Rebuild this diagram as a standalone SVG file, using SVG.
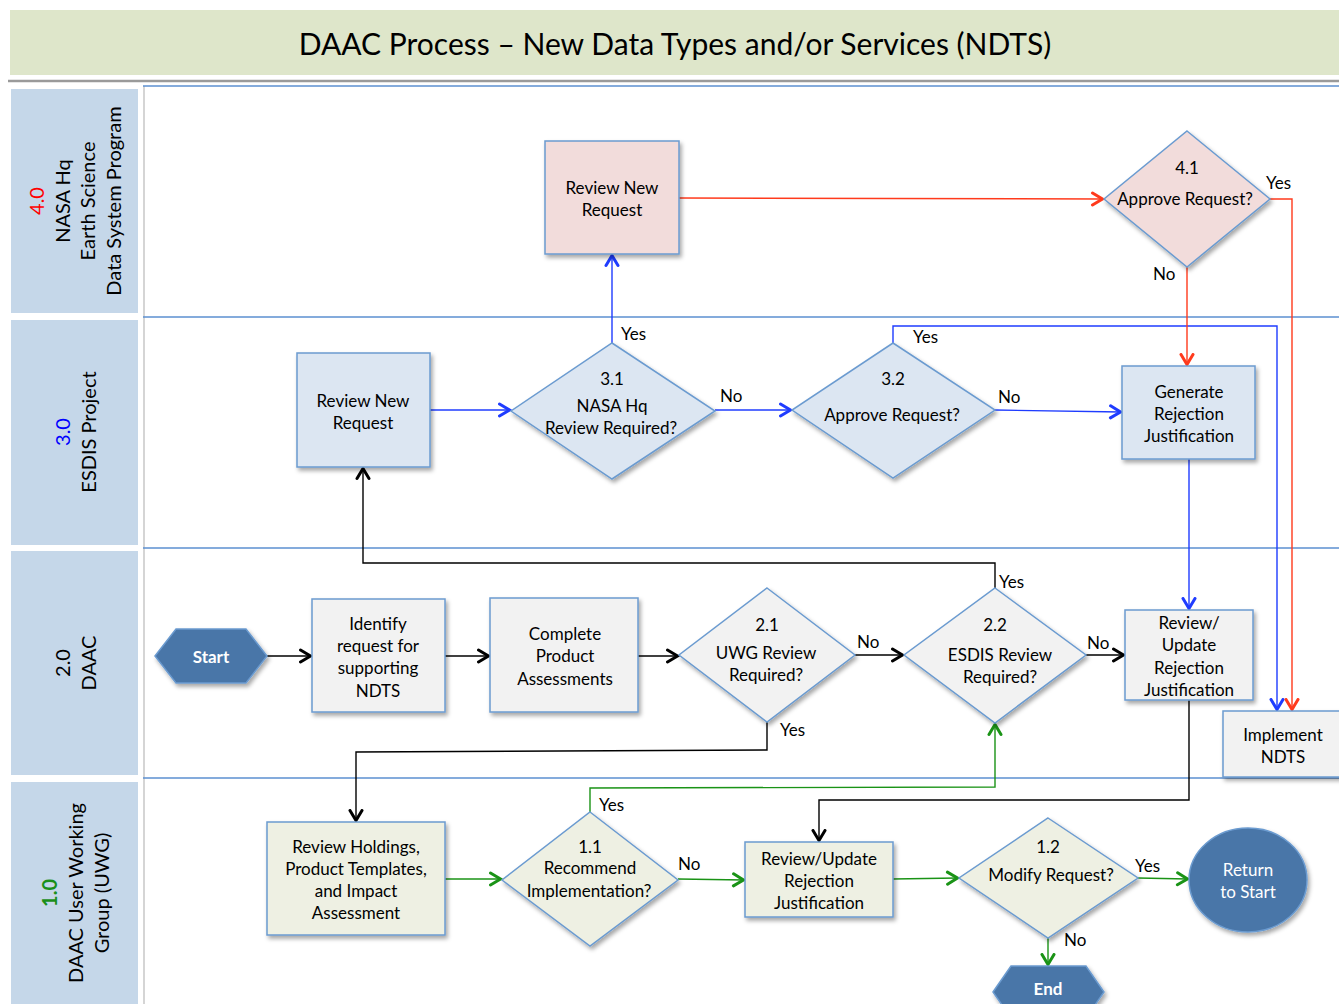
<svg xmlns="http://www.w3.org/2000/svg" width="1339" height="1004" viewBox="0 0 1339 1004">
<defs>
<filter id="sh" x="-10%" y="-10%" width="130%" height="130%">
<feDropShadow dx="2" dy="3" stdDeviation="2" flood-color="#000" flood-opacity="0.35"/>
</filter>
<marker id="ab" viewBox="0 0 14 16" refX="12.5" refY="8" markerWidth="14" markerHeight="16" markerUnits="userSpaceOnUse" orient="auto"><path d="M2,2 L12,8 L2,14" fill="none" stroke="#1f3cff" stroke-width="3" stroke-linecap="round" stroke-linejoin="miter"/></marker>
<marker id="ar" viewBox="0 0 14 16" refX="12.5" refY="8" markerWidth="14" markerHeight="16" markerUnits="userSpaceOnUse" orient="auto"><path d="M2,2 L12,8 L2,14" fill="none" stroke="#ff3a1c" stroke-width="3" stroke-linecap="round"/></marker>
<marker id="ak" viewBox="0 0 14 16" refX="12.5" refY="8" markerWidth="14" markerHeight="16" markerUnits="userSpaceOnUse" orient="auto"><path d="M2,2 L12,8 L2,14" fill="none" stroke="#000" stroke-width="3" stroke-linecap="round"/></marker>
<marker id="ag" viewBox="0 0 14 16" refX="12.5" refY="8" markerWidth="14" markerHeight="16" markerUnits="userSpaceOnUse" orient="auto"><path d="M2,2 L12,8 L2,14" fill="none" stroke="#1a9316" stroke-width="3" stroke-linecap="round"/></marker>
</defs>
<style>
text{font-family:Lato,"Liberation Sans",sans-serif;fill:#000;}
.t{font-size:17px;text-anchor:middle;}
.lbl{font-size:17px;}
.lane{font-size:20px;text-anchor:middle;}
.box{stroke:#6b9bd0;stroke-width:1.5;filter:url(#sh);}
.pink{fill:#f2dcdb;}
.lb{fill:#dce6f2;}
.gr{fill:#f2f2f2;}
.ol{fill:#eef0e3;}
.dark{fill:#4a76a8;stroke:#6b9bd0;stroke-width:1.5;filter:url(#sh);}
.wt{fill:#fff;font-size:17px;text-anchor:middle;}
.cb{fill:none;stroke:#1f3cff;stroke-width:1.4;}
.cr{fill:none;stroke:#ff3a1c;stroke-width:1.4;}
.ck{fill:none;stroke:#000;stroke-width:1.4;}
.cg{fill:none;stroke:#1a9316;stroke-width:1.4;}
.div{stroke:#5b8fd0;stroke-width:1.3;}
</style>
<rect width="1339" height="1004" fill="#fff"/>
<!-- Title -->
<g id="title">
<rect x="10" y="10" width="1329" height="65" fill="#dee6ca"/>
<line x1="8" y1="81" x2="1339" y2="81" stroke="#9a9a9a" stroke-width="2.5"/>
<text x="675" y="55" font-size="30" text-anchor="middle">DAAC Process – New Data Types and/or Services (NDTS)</text>
</g>
<!-- Lanes -->
<g id="lanes">
<rect x="11" y="89" width="127" height="224" fill="#c5d7e9"/>
<rect x="11" y="320" width="127" height="225" fill="#c5d7e9"/>
<rect x="11" y="551" width="127" height="224" fill="#c5d7e9"/>
<rect x="11" y="782" width="127" height="222" fill="#c5d7e9"/>
<line x1="144" y1="86" x2="144" y2="1004" stroke="#d5d5d5" stroke-width="2"/>
<line class="div" x1="143" y1="86" x2="1339" y2="86"/>
<line class="div" x1="143" y1="317" x2="1339" y2="317"/>
<line class="div" x1="143" y1="548" x2="1339" y2="548"/>
<line class="div" x1="143" y1="778" x2="1339" y2="778"/>
<g transform="translate(0,201) rotate(-90)">
<text class="lane" x="0" y="44" style="fill:#ff0000">4.0</text>
<text class="lane" x="0" y="70">NASA Hq</text>
<text class="lane" x="0" y="95">Earth Science</text>
<text class="lane" x="0" y="121">Data System Program</text>
</g>
<g transform="translate(0,432) rotate(-90)">
<text class="lane" x="0" y="70" style="fill:#0000ff">3.0</text>
<text class="lane" x="0" y="96">ESDIS Project</text>
</g>
<g transform="translate(0,663) rotate(-90)">
<text class="lane" x="0" y="70">2.0</text>
<text class="lane" x="0" y="96">DAAC</text>
</g>
<g transform="translate(0,893) rotate(-90)">
<text class="lane" x="0" y="57" font-weight="bold" style="fill:#1a8f1a">1.0</text>
<text class="lane" x="0" y="83">DAAC User Working</text>
<text class="lane" x="0" y="109">Group (UWG)</text>
</g>
</g>
<!-- Connectors -->
<g id="connectors">
<!-- blue -->
<path class="cb" d="M430,410 L510,410" marker-end="url(#ab)"/>
<path class="cb" d="M612,343 L612,255" marker-end="url(#ab)"/>
<path class="cb" d="M715,410 L791,410" marker-end="url(#ab)"/>
<path class="cb" d="M995,410 L1121,412" marker-end="url(#ab)"/>
<path class="cb" d="M893,343 L893,326 L1277,326 L1277,710" marker-end="url(#ab)"/>
<path class="cb" d="M1189,459 L1189,609" marker-end="url(#ab)"/>
<!-- red -->
<path class="cr" d="M679,198 L1103,199" marker-end="url(#ar)"/>
<path class="cr" d="M1270,199 L1292,199 L1292,710" marker-end="url(#ar)"/>
<path class="cr" d="M1187,267 L1187,365" marker-end="url(#ar)"/>
<!-- black -->
<path class="ck" d="M267,656 L311,656" marker-end="url(#ak)"/>
<path class="ck" d="M445,656 L489,656" marker-end="url(#ak)"/>
<path class="ck" d="M638,656 L678,656" marker-end="url(#ak)"/>
<path class="ck" d="M855,655 L903,655" marker-end="url(#ak)"/>
<path class="ck" d="M1086,655 L1124,655" marker-end="url(#ak)"/>
<path class="ck" d="M995,588 L995,563 L363,563 L363,468" marker-end="url(#ak)"/>
<path class="ck" d="M767,722 L767,750 L356,752 L356,821" marker-end="url(#ak)"/>
<path class="ck" d="M1189,700 L1189,800 L819,800 L819,841" marker-end="url(#ak)"/>
<!-- green -->
<path class="cg" d="M445,879 L501,879" marker-end="url(#ag)"/>
<path class="cg" d="M678,879 L744,880" marker-end="url(#ag)"/>
<path class="cg" d="M590,812 L590,788 L995,787 L995,724" marker-end="url(#ag)"/>
<path class="cg" d="M893,879 L958,878" marker-end="url(#ag)"/>
<path class="cg" d="M1138,878 L1188,879" marker-end="url(#ag)"/>
<path class="cg" d="M1048,938 L1048,965" marker-end="url(#ag)"/>
<!-- labels -->
<text class="lbl" x="621" y="340">Yes</text>
<text class="lbl" x="720" y="402">No</text>
<text class="lbl" x="998" y="403">No</text>
<text class="lbl" x="913" y="343">Yes</text>
<text class="lbl" x="1266" y="189">Yes</text>
<text class="lbl" x="1153" y="280">No</text>
<text class="lbl" x="857" y="648">No</text>
<text class="lbl" x="1087" y="649">No</text>
<text class="lbl" x="999" y="588">Yes</text>
<text class="lbl" x="780" y="736">Yes</text>
<text class="lbl" x="599" y="811">Yes</text>
<text class="lbl" x="678" y="870">No</text>
<text class="lbl" x="1135" y="872">Yes</text>
<text class="lbl" x="1064" y="946">No</text>
</g>
<!-- Nodes -->
<g id="n4-review">
<rect class="box pink" x="545" y="141" width="134" height="113"/>
<text class="t" x="612" y="194">Review New</text>
<text class="t" x="612" y="216">Request</text>
</g>
<g id="n4-1">
<polygon class="box pink" points="1187,131 1270,199 1187,267 1104,199"/>
<text class="t" x="1187" y="174">4.1</text>
<text class="t" x="1185" y="205">Approve Request?</text>
</g>
<g id="n3-review">
<rect class="box lb" x="297" y="353" width="133" height="114"/>
<text class="t" x="363" y="407">Review New</text>
<text class="t" x="363" y="429">Request</text>
</g>
<g id="n3-1">
<polygon class="box lb" points="612,343 715,411 612,479 511,411"/>
<text class="t" x="612" y="385">3.1</text>
<text class="t" x="612" y="412">NASA Hq</text>
<text class="t" x="611" y="434">Review Required?</text>
</g>
<g id="n3-2">
<polygon class="box lb" points="893,343 995,410 893,478 792,410"/>
<text class="t" x="893" y="385">3.2</text>
<text class="t" x="892" y="421">Approve Request?</text>
</g>
<g id="n3-gen">
<rect class="box lb" x="1122" y="366" width="133" height="93"/>
<text class="t" x="1189" y="398">Generate</text>
<text class="t" x="1189" y="420">Rejection</text>
<text class="t" x="1189" y="442">Justification</text>
</g>
<g id="start">
<polygon class="dark" points="155,656 176,629 246,629 267,656 246,683 176,683"/>
<text class="wt" x="211" y="663" font-weight="bold">Start</text>
</g>
<g id="n2-identify">
<rect class="box gr" x="312" y="599" width="133" height="113"/>
<text class="t" x="378" y="630">Identify</text>
<text class="t" x="378" y="652">request for</text>
<text class="t" x="378" y="674">supporting</text>
<text class="t" x="378" y="697">NDTS</text>
</g>
<g id="n2-complete">
<rect class="box gr" x="490" y="598" width="148" height="114"/>
<text class="t" x="565" y="640">Complete</text>
<text class="t" x="565" y="662">Product</text>
<text class="t" x="565" y="685">Assessments</text>
</g>
<g id="n2-1">
<polygon class="box gr" points="767,588 855,655 767,722 679,655"/>
<text class="t" x="767" y="631">2.1</text>
<text class="t" x="766" y="659">UWG Review</text>
<text class="t" x="766" y="681">Required?</text>
</g>
<g id="n2-2">
<polygon class="box gr" points="995,588 1086,655 995,723 904,655"/>
<text class="t" x="995" y="631">2.2</text>
<text class="t" x="1000" y="661">ESDIS Review</text>
<text class="t" x="1000" y="683">Required?</text>
</g>
<g id="n2-review">
<rect class="box gr" x="1125" y="610" width="128" height="90"/>
<text class="t" x="1189" y="629">Review/</text>
<text class="t" x="1189" y="651">Update</text>
<text class="t" x="1189" y="674">Rejection</text>
<text class="t" x="1189" y="696">Justification</text>
</g>
<g id="n2-implement">
<rect class="box gr" x="1223" y="711" width="122" height="66"/>
<text class="t" x="1283" y="741">Implement</text>
<text class="t" x="1283" y="763">NDTS</text>
</g>
<g id="n1-holdings">
<rect class="box ol" x="267" y="822" width="178" height="113"/>
<text class="t" x="356" y="853">Review Holdings,</text>
<text class="t" x="356" y="875">Product Templates,</text>
<text class="t" x="356" y="897">and Impact</text>
<text class="t" x="356" y="919">Assessment</text>
</g>
<g id="n1-1">
<polygon class="box ol" points="590,812 678,880 590,946 502,880"/>
<text class="t" x="590" y="853">1.1</text>
<text class="t" x="590" y="874">Recommend</text>
<text class="t" x="589" y="897">Implementation?</text>
</g>
<g id="n1-review">
<rect class="box ol" x="745" y="842" width="148" height="75"/>
<text class="t" x="819" y="865">Review/Update</text>
<text class="t" x="819" y="887">Rejection</text>
<text class="t" x="819" y="909">Justification</text>
</g>
<g id="n1-2">
<polygon class="box ol" points="1048,818 1138,878 1048,938 959,878"/>
<text class="t" x="1048" y="853">1.2</text>
<text class="t" x="1051" y="881">Modify Request?</text>
</g>
<g id="return">
<ellipse class="dark" cx="1248" cy="880" rx="59" ry="52"/>
<text class="wt" x="1248" y="876">Return</text>
<text class="wt" x="1248" y="898">to Start</text>
</g>
<g id="end">
<polygon class="dark" points="993,992 1011,966 1086,966 1104,992 1086,1018 1011,1018"/>
<text class="wt" x="1048" y="995" font-weight="bold">End</text>
</g>
</svg>
